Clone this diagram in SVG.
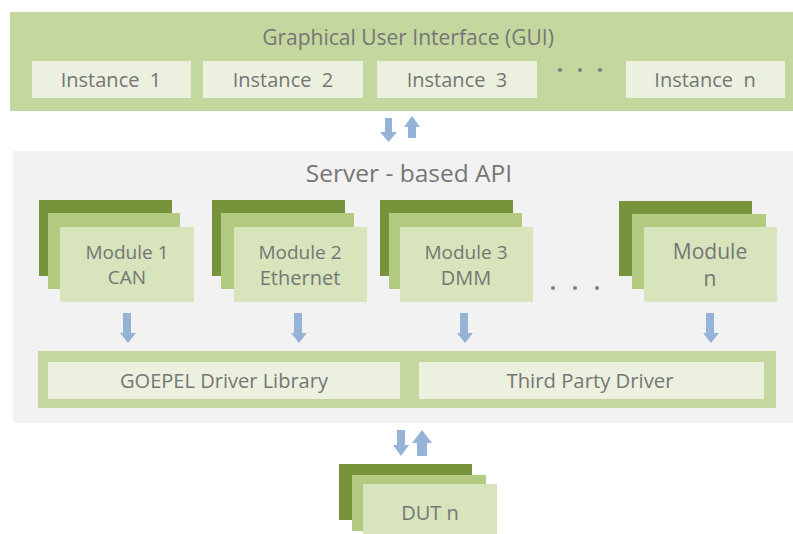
<svg xmlns="http://www.w3.org/2000/svg" width="793" height="534" viewBox="0 0 793 534">
<style>
text{font-family:"Open Sans","Noto Sans","Liberation Sans",sans-serif;fill:#767676;text-anchor:middle}
.band{fill:#c4d79f}
.inst{fill:#ebf1de}
.srv{fill:#f2f2f2}
.dk{fill:#77933c}
.md{fill:#b2cb80}
.lt{fill:#d7e4bc}
.arr{fill:#95b3d7}
.dot{fill:#7f7f7f}
.t20{font-size:20px}
.t19{font-size:19px}
.t21{font-size:21px}
</style>
<rect width="793" height="534" fill="#ffffff"/>
<g id="gui">
<rect class="band" x="10" y="12" width="783" height="99"/>
<text class="t21" x="408" y="45">Graphical User Interface (GUI)</text>
</g>
<g id="instance1"><rect class="inst" x="32" y="61" width="159" height="37"/><text class="t20" x="111" y="87" xml:space="preserve">Instance  1</text></g>
<g id="instance2"><rect class="inst" x="203" y="61" width="160" height="37"/><text class="t20" x="283" y="87" xml:space="preserve">Instance  2</text></g>
<g id="instance3"><rect class="inst" x="377" y="61" width="160" height="37"/><text class="t20" x="457" y="87" xml:space="preserve">Instance  3</text></g>
<g id="instance-dots"><circle class="dot" cx="560" cy="70" r="2"/><circle class="dot" cx="580" cy="70" r="2"/><circle class="dot" cx="600" cy="70" r="2"/></g>
<g id="instancen"><rect class="inst" x="626" y="61" width="159" height="37"/><text class="t20" x="705" y="87" xml:space="preserve">Instance  n</text></g>
<g id="server">
<rect class="srv" x="13" y="151" width="780" height="272"/>
<text x="409" y="182" style="font-size:24.5px">Server - based API</text>
</g>
<g id="module1">
<rect class="dk" x="39" y="200" width="133" height="76"/>
<rect class="md" x="48" y="213" width="132" height="76"/>
<rect class="lt" x="60" y="227" width="134" height="75"/>
<text class="t19" x="127" y="259">Module 1</text><text class="t19" x="127" y="284">CAN</text>
</g>
<g id="module2">
<rect class="dk" x="212" y="200" width="133" height="76"/>
<rect class="md" x="221" y="213" width="133" height="76"/>
<rect class="lt" x="234" y="227" width="133" height="75"/>
<text class="t19" x="300" y="259">Module 2</text><text class="t20" x="300" y="285">Ethernet</text>
</g>
<g id="module3">
<rect class="dk" x="380" y="200" width="133" height="76"/>
<rect class="md" x="389" y="213" width="133" height="76"/>
<rect class="lt" x="400" y="227" width="133" height="75"/>
<text class="t19" x="466" y="259">Module 3</text><text class="t20" x="466" y="285">DMM</text>
</g>
<g id="module-dots"><circle class="dot" cx="553" cy="288" r="2"/><circle class="dot" cx="575" cy="288" r="2"/><circle class="dot" cx="597" cy="288" r="2"/></g>
<g id="modulen">
<rect class="dk" x="619" y="201" width="133" height="75"/>
<rect class="md" x="632" y="214" width="134" height="75"/>
<rect class="lt" x="644" y="227" width="133" height="75"/>
<text class="t21" x="710" y="259">Module</text><text class="t21" x="710" y="286">n</text>
</g>
<g id="drivers">
<rect class="band" x="38" y="351" width="738" height="57"/>
</g>
<g id="goepel"><rect class="inst" x="48" y="362" width="352" height="37"/><text x="224" y="388" style="font-size:20px" textLength="208" lengthAdjust="spacingAndGlyphs">GOEPEL Driver Library</text></g>
<g id="thirdparty"><rect class="inst" x="419" y="362" width="345" height="37"/><text x="590" y="388" style="font-size:20px" textLength="167" lengthAdjust="spacingAndGlyphs">Third Party Driver</text></g>
<g id="dut">
<rect class="dk" x="339" y="464" width="133" height="56"/>
<rect class="md" x="352" y="475" width="134" height="56"/>
<rect class="lt" x="363" y="484" width="134" height="50"/>
<text class="t20" x="430" y="520">DUT n</text>
</g>
<g id="connectors">
<path class="arr" d="M385 118h7v14h5l-8.5 10l-8.5-10h5z"/>
<path class="arr" d="M408 138v-11h-4l8-11l8 11h-4v11z"/>
<path class="arr" d="M123 313h8v20h5l-8 10l-8-10h3z"/>
<path class="arr" d="M294 313h8v20h5l-8 10l-8-10h3z"/>
<path class="arr" d="M460 313h8v20h5l-8 10l-8-10h3z"/>
<path class="arr" d="M706 313h8v20h5l-8 10l-8-10h3z"/>
<path class="arr" d="M397 430h8v15h4l-8 11l-8-11h4z"/>
<path class="arr" d="M417 456v-13h-5l10-13l10 13h-5v13z"/>
</g>
</svg>
